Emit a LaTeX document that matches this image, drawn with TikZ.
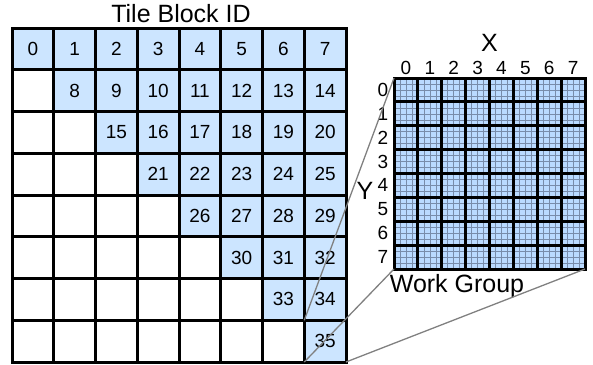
\documentclass[tikz,border=0pt]{standalone}
\usepackage{fontspec}
\setmainfont{Liberation Sans}
\definecolor{tileblue}{RGB}{204,229,255}
\definecolor{wgblue}{RGB}{186,218,255}
\definecolor{finegrid}{RGB}{120,140,170}
\definecolor{linkgray}{RGB}{128,128,128}
\begin{document}
\begin{tikzpicture}[x=1pt,y=-1pt,
  num/.style={font=\fontsize{19}{21}\selectfont, inner sep=0pt},
  lbl/.style={font=\fontsize{19}{21}\selectfont, inner sep=0pt},
  big/.style={font=\fontsize{25}{28}\selectfont, inner sep=0pt},
  thickgrid/.style={line width=3pt, line cap=rect, black},
  fine/.style={line width=0.5pt, finegrid},
  link/.style={line width=1.3pt, linkgray}]
\useasboundingbox (0,0) rectangle (593,364);
\def\lx{12}\def\ly{28}\def\lc{41.75}
\def\rx{394}\def\ry{78}\def\rc{23.875}
% left tile grid
\foreach \r in {0,...,7}{
  \foreach \k in {\r,...,7}{
    \fill[tileblue] (\lx+\k*\lc,\ly+\r*\lc) rectangle ++(\lc,\lc);
    \pgfmathtruncatemacro\n{8*\r-\r*(\r-1)/2+\k-\r}
    \node[num] (t\n) at (\lx+\k*\lc+\lc/2,\ly+\r*\lc+\lc/2) {\n};
  }
}
\foreach \i in {0,...,8}{
  \draw[thickgrid] (\lx+\i*\lc,\ly) -- (\lx+\i*\lc,\ly+8*\lc);
  \draw[thickgrid] (\lx,\ly+\i*\lc) -- (\lx+8*\lc,\ly+\i*\lc);
}
\node[big, anchor=base] (title) at (181,22.5) {Tile Block ID};
% right work group grid
\fill[wgblue] (\rx,\ry) rectangle ++(8*\rc,8*\rc);
\foreach \i in {1,...,31}{
  \draw[fine] (\rx+\i*\rc/4,\ry) -- (\rx+\i*\rc/4,\ry+8*\rc);
  \draw[fine] (\rx,\ry+\i*\rc/4) -- (\rx+8*\rc,\ry+\i*\rc/4);
}
\foreach \i in {0,...,8}{
  \draw[thickgrid] (\rx+\i*\rc,\ry) -- (\rx+\i*\rc,\ry+8*\rc);
  \draw[thickgrid] (\rx,\ry+\i*\rc) -- (\rx+8*\rc,\ry+\i*\rc);
}
\foreach \i in {0,...,7}{
  \node[lbl] (cx\i) at (\rx+\i*\rc+\rc/2,68) {\i};
  \node[lbl] (ry\i) at (383,\ry+\i*\rc+\rc/2) {\i};
}
\node[big] (xl) at (489.5,43) {X};
\node[big] (yl) at (365,191) {Y};
\node[big, anchor=base] (wg) at (457,292) {Work Group};
% connectors
\coordinate (c35tl) at (\lx+7*\lc,\ly+7*\lc);
\coordinate (c35bl) at (\lx+7*\lc,\ly+8*\lc);
\coordinate (c35br) at (\lx+8*\lc,\ly+8*\lc);
\coordinate (wgtl) at (\rx,\ry);
\coordinate (wgbl) at (\rx,\ry+8*\rc);
\coordinate (wgbr) at (\rx+8*\rc,\ry+8*\rc);
\draw[link] (c35tl) -- (wgtl);
\draw[link] (c35bl) -- (wgbl);
\draw[link] (c35br) -- (wgbr);
\end{tikzpicture}
\end{document}
